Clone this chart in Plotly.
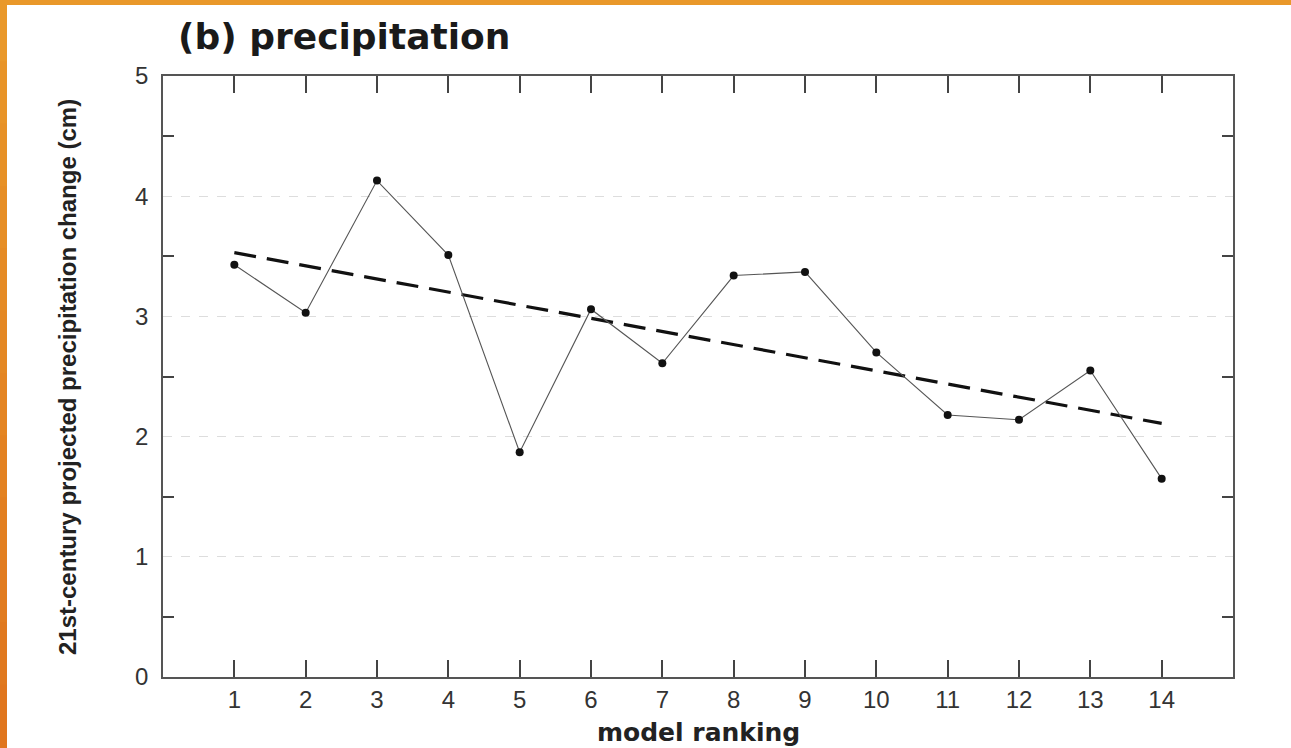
import plotly.graph_objects as go

# ---- data ----
model_rank = [1, 2, 3, 4, 5, 6, 7, 8, 9, 10, 11, 12, 13, 14]
precip_change = [3.43, 3.03, 4.13, 3.51, 1.87, 3.06, 2.61, 3.34, 3.37, 2.70, 2.18, 2.14, 2.55, 1.65]
trend_x = [1, 14]
trend_y = [3.53, 2.11]
y_tick_vals = [0, 1, 2, 3, 4, 5]
y_tick_text = ["0", "1", "2", "3", "4", "5"]
y_minor_vals = [0.5, 1.5, 2.5, 3.5, 4.5]

W, H = 1291, 748
ML, MR, MT, MB = 163, 58, 76, 71
PW, PH = W - ML - MR, H - MT - MB


def px_x(p):
    return (p - ML) / PW


def px_y(p):
    return (H - MB - p) / PH


fig = go.Figure()

fig.add_trace(go.Scatter(
    x=trend_x, y=trend_y, mode="lines",
    line=dict(color="#111111", width=3.2, dash="22px,11px"),
    hoverinfo="skip",
))
fig.add_trace(go.Scatter(
    x=model_rank, y=precip_change, mode="lines+markers",
    line=dict(color="#555555", width=1.1),
    marker=dict(color="#111111", size=8),
))

tick_font = dict(family="Liberation Sans, Arial, sans-serif", size=24, color="#333333")

fig.update_xaxes(
    range=[0, 15], tickvals=model_rank, ticks="inside", ticklen=17, tickwidth=1.5,
    tickcolor="#444444", showline=True, linecolor="#555555", linewidth=1.5,
    mirror="ticks", showgrid=False, zeroline=False, tickfont=tick_font,
)
fig.update_yaxes(
    range=[0, 5], tickvals=y_tick_vals, ticktext=y_tick_text, ticks="",
    showline=True, linecolor="#555555", linewidth=1.5, mirror="ticks",
    showgrid=True, gridcolor="#dddddd", gridwidth=1, griddash="dash",
    zeroline=False, tickfont=tick_font, ticklabelstandoff=8,
    minor=dict(tickvals=y_minor_vals, ticks="inside", ticklen=11, tickwidth=1.5,
               tickcolor="#444444", showgrid=False),
)

annotations = [
    dict(text="(b) precipitation", xref="paper", yref="paper",
         x=px_x(176), y=px_y(36), xanchor="left", yanchor="middle", showarrow=False,
         font=dict(family="DejaVu Sans, sans-serif", size=36, color="#1a1a1a", weight="bold")),
    dict(text="model ranking", xref="paper", yref="paper",
         x=px_x(698), y=px_y(732), xanchor="center", yanchor="middle", showarrow=False,
         font=dict(family="DejaVu Sans, sans-serif", size=25, color="#222222", weight="bold")),
    dict(text="21st-century projected precipitation change (cm)", xref="paper", yref="paper",
         x=px_x(67), y=px_y(377), xanchor="center", yanchor="middle", showarrow=False,
         textangle=-90,
         font=dict(family="Liberation Sans, Arial, sans-serif",
                   size=24, color="#222222", weight="bold")),
]

# orange frame strips (left and top edges)
shapes = []
n_seg = 12
for i in range(n_seg):
    t = i / (n_seg - 1)
    r = int(0xE9 + (0xE0 - 0xE9) * t)
    g = int(0x98 + (0x76 - 0x98) * t)
    b = int(0x2A + (0x1E - 0x2A) * t)
    y0 = i * H / n_seg - 1
    y1 = (i + 1) * H / n_seg + 1
    shapes.append(dict(type="rect", xref="paper", yref="paper",
                       x0=px_x(-1), x1=px_x(7), y0=px_y(y1), y1=px_y(y0),
                       fillcolor=f"rgb({r},{g},{b})", line=dict(width=0), layer="above"))
shapes.append(dict(type="rect", xref="paper", yref="paper",
                   x0=px_x(-1), x1=px_x(W + 1), y0=px_y(5), y1=px_y(-1),
                   fillcolor="#e9982a", line=dict(width=0), layer="above"))

fig.update_layout(
    width=W, height=H, margin=dict(l=ML, r=MR, t=MT, b=MB),
    showlegend=False, plot_bgcolor="white", paper_bgcolor="white",
    annotations=annotations, shapes=shapes,
)

fig.write_html("out.html")
